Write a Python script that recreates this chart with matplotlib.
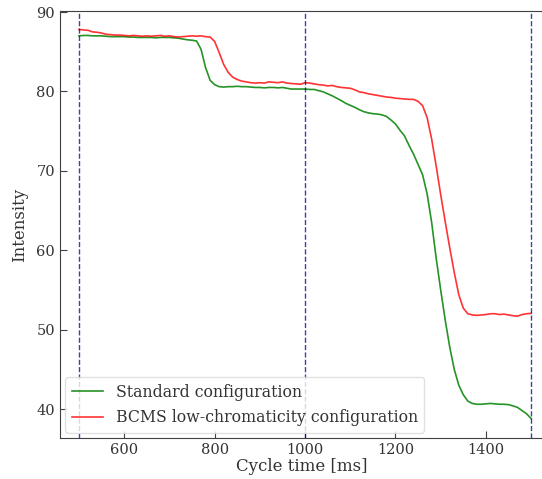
import numpy as np
from matplotlib import pyplot as plt

plt.rcParams['font.family'] = 'DejaVu Serif'

# cycle time samples [ms]
t = np.arange(500, 1501, 10)

standard = [
    87.0, 87.05, 87.05, 87.0, 87.0, 87.0, 86.95, 86.9, 86.9, 86.9,
    86.9, 86.85, 86.85, 86.8, 86.8, 86.8, 86.8, 86.75, 86.8, 86.8,
    86.8, 86.75, 86.7, 86.6, 86.5, 86.45, 86.35, 85.3, 83.0, 81.4,
    80.85, 80.6, 80.55, 80.6, 80.6, 80.65, 80.6, 80.6, 80.55, 80.5,
    80.5, 80.45, 80.5, 80.5, 80.45, 80.5, 80.4, 80.3, 80.3, 80.3,
    80.3, 80.25, 80.25, 80.1, 79.95, 79.7, 79.45, 79.15, 78.85, 78.5,
    78.25, 78.0, 77.7, 77.45, 77.3, 77.2, 77.15, 77.05, 76.85, 76.4,
    75.9, 75.1, 74.4, 73.2, 72.1, 70.8, 69.5, 67.1, 63.5, 59.0,
    55.0, 51.2, 47.8, 45.0, 43.0, 41.8, 41.0, 40.7, 40.6, 40.6,
    40.65, 40.7, 40.65, 40.6, 40.6, 40.55, 40.4, 40.2, 39.8, 39.4,
    38.8,
]

bcms = [
    87.8, 87.75, 87.7, 87.5, 87.45, 87.35, 87.2, 87.15, 87.1, 87.1,
    87.05, 87.0, 87.05, 87.0, 86.95, 87.0, 86.95, 87.0, 87.05, 86.95,
    87.0, 86.9, 86.85, 86.9, 86.95, 87.0, 86.95, 87.0, 86.9, 86.85,
    86.3, 84.9, 83.4, 82.4, 81.8, 81.5, 81.3, 81.2, 81.1, 81.05,
    81.1, 81.05, 81.2, 81.15, 81.1, 81.2, 81.05, 81.0, 80.95, 80.9,
    81.1, 81.05, 80.95, 80.85, 80.8, 80.7, 80.75, 80.6, 80.5, 80.45,
    80.4, 80.2, 79.95, 79.85, 79.7, 79.6, 79.5, 79.4, 79.3, 79.25,
    79.15, 79.1, 79.05, 79.0, 79.0, 78.75, 78.2, 76.7, 74.0, 70.6,
    67.0, 63.6, 60.3, 57.2, 54.4, 52.7, 52.0, 51.85, 51.8, 51.85,
    51.9, 52.0, 52.0, 51.9, 51.95, 51.85, 51.75, 51.7, 51.9, 52.0,
    52.05,
]

cycle_marks = [500, 1000, 1500]

fig = plt.figure(figsize=(5.42, 4.79), dpi=100)
# right edge of the axes sits just past the figure border
ax = fig.add_axes([60/542, 1 - 438/479, 484/542, 427/479])

ax.plot(t, standard, color='g', lw=1.2, alpha=0.85, label='Standard configuration')
ax.plot(t, bcms, color='r', lw=1.2, alpha=0.8, label='BCMS low-chromaticity configuration')
for m in cycle_marks:
    ax.axvline(m, color='darkblue', ls='--', lw=1, alpha=0.75)

ax.set_xlim(458, 1528.5)
ax.set_ylim(36.35, 90.13)
ax.set_xticks([600, 800, 1000, 1200, 1400])
ax.set_yticks([40, 50, 60, 70, 80, 90])

for s in ax.spines.values():
    s.set_color('0.25')
ax.tick_params(direction='in', length=5, labelsize=10.5, colors='0.25', labelcolor='0.2')
ax.set_xlabel('Cycle time [ms]', fontsize=12, color='0.2', labelpad=1)
ax.set_ylabel('Intensity', fontsize=12, color='0.2', labelpad=6)

leg = ax.legend(loc='lower left', fontsize=11.3, framealpha=0.8,
                borderaxespad=0.35, labelspacing=0.55)
leg.get_frame().set_edgecolor('0.85')
for txt in leg.get_texts():
    txt.set_color('0.2')

fig.savefig('out.png', dpi=100)
